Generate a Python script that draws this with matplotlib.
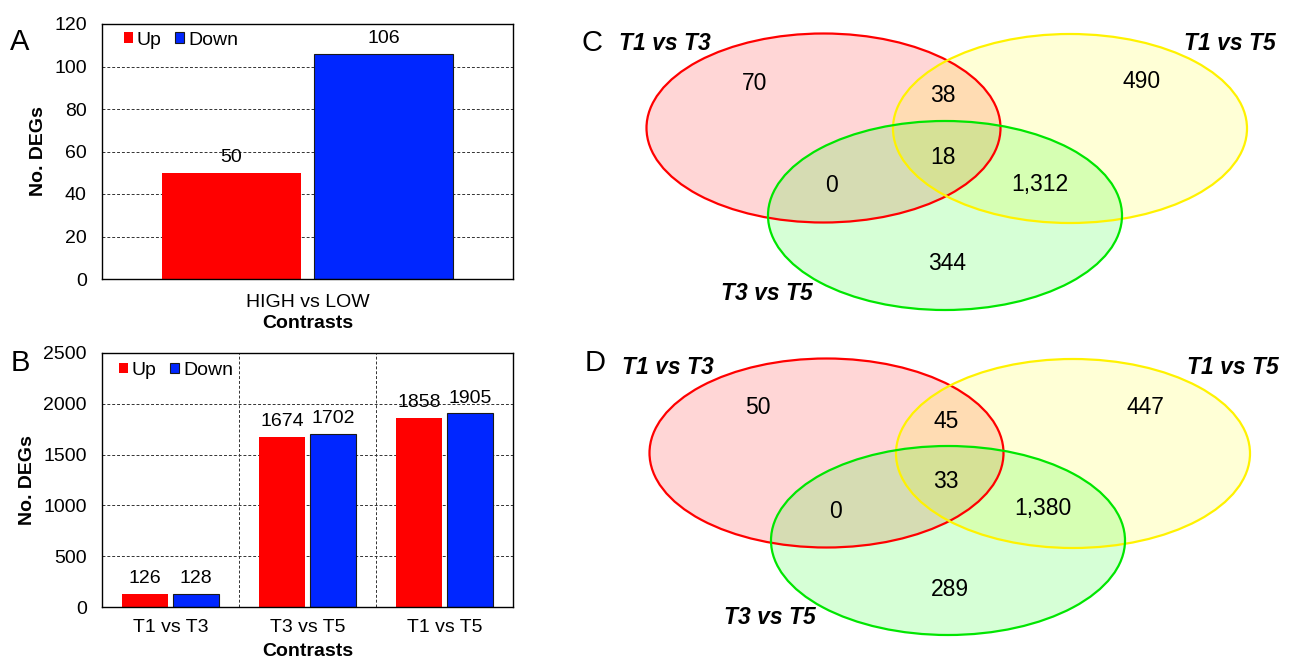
import matplotlib
matplotlib.use('Agg')
import matplotlib.pyplot as plt
from matplotlib.patches import Ellipse
import numpy as np

plt.rcParams['font.family'] = ['Liberation Sans', 'DejaVu Sans']

# Panel A: single contrast
contrasts_a = ['HIGH vs LOW']
up_a = [50]
down_a = [106]

# Panel B: three contrasts
contrasts_b = ['T1 vs T3', 'T3 vs T5', 'T1 vs T5']
up_b = [126, 1674, 1858]
down_b = [128, 1702, 1905]

# Venn panels C and D
venn_sets = ['T1 vs T3', 'T1 vs T5', 'T3 vs T5']
# regions: 13 only, 13&15, 15 only, all, 13&35, 15&35, 35 only
venn_c = [70, 38, 490, 18, 0, 1312, 344]
venn_d = [50, 45, 447, 33, 0, 1380, 289]

W, H = 1291, 660
RED = '#FF0000'
BLUE = '#0026FF'


def px_axes(fig, left, top, right, bottom):
    return fig.add_axes([left / W, 1 - bottom / H, (right - left) / W, (bottom - top) / H])


def bar_panel(ax, cats, up, down, ymax, ystep, leg_x, leg_y, xpad, xlpad, vlines=False):
    x = np.arange(len(cats))
    bw, off = 0.34, 0.185
    b1 = ax.bar(x - off, up, bw, color=RED, edgecolor='none', label='Up', zorder=2)
    b2 = ax.bar(x + off, down, bw, color=BLUE, edgecolor='#1a1a1a', linewidth=0.8, label='Down', zorder=2)
    for bars, vals in [(b1, up), (b2, down)]:
        for rect, v in zip(bars, vals):
            ax.annotate(str(v), (rect.get_x() + rect.get_width() / 2, v), xytext=(0, 5),
                        textcoords='offset points', ha='center', va='bottom', fontsize=14)
    ax.set_xlim(-0.5, len(cats) - 0.5)
    ax.set_ylim(0, ymax)
    ax.set_yticks(np.arange(0, ymax + 1, ystep))
    ax.set_xticks(x)
    ax.set_xticklabels(cats)
    ax.set_axisbelow(True)
    ax.yaxis.grid(True, linestyle=(0, (3, 2)), color='#333333', linewidth=0.7)
    if vlines:
        for b in x[1:] - 0.5:
            ax.axvline(b, linestyle=(0, (3, 2)), color='#333333', linewidth=0.7, zorder=1)
    ax.tick_params(axis='y', length=0, pad=11, labelsize=14)
    ax.tick_params(axis='x', length=0, pad=xpad, labelsize=14)
    for s in ax.spines.values():
        s.set_linewidth(1.0)
        s.set_color('black')
    ax.set_ylabel('No. DEGs', fontsize=14, fontweight='bold', labelpad=5)
    ax.set_xlabel('Contrasts', fontsize=14, fontweight='bold', labelpad=xlpad)
    ax.legend(loc='upper left', bbox_to_anchor=(leg_x, leg_y), ncol=2, frameon=False, fontsize=14,
              handlelength=0.46, handleheight=0.46, handletextpad=0.2, columnspacing=0.7,
              borderpad=0, borderaxespad=0)


def venn_panel(fig, top, counts, dx, dy):
    ax = fig.add_axes([560 / W, 1 - (top + 330) / H, 731 / W, 330 / H])
    ax.set_xlim(560, 1291)
    ax.set_ylim(top + 330, top)
    ax.axis('off')
    # layout (pixel positions from panel C)
    centers = [(823.5, 128), (1070, 128.5), (945, 215.5)]
    edge = ['#FF0000', '#FFF200', '#00E600']
    face = ['#FF0000', '#FFFF00', '#00FF00']
    for (cx, cy), fc in zip(centers, face):
        ax.add_patch(Ellipse((cx + dx, cy + dy), 354, 189, facecolor=fc, alpha=0.16, edgecolor='none'))
    for (cx, cy), ec in zip(centers, edge):
        ax.add_patch(Ellipse((cx + dx, cy + dy), 354, 189, facecolor='none', edgecolor=ec, linewidth=1.6))
    spots = [(755, 83), (943, 96), (1142, 82), (943, 157), (832, 186), (1040, 184), (947, 264)]
    for (lx, ly), v in zip(spots, counts):
        ax.text(lx + dx, ly + dy, f'{v:,}', ha='center', va='center', fontsize=16.5)
    name_spots = [(665, 43), (1230, 43), (767, 293)]
    for (lx, ly), name in zip(name_spots, venn_sets):
        ax.text(lx + dx, ly + dy, name, ha='center', va='center', fontsize=16.5,
                fontweight='bold', fontstyle='italic')


fig = plt.figure(figsize=(W / 100, H / 100), dpi=100)

ax_a = px_axes(fig, 102, 24, 513, 279)
bar_panel(ax_a, contrasts_a, up_a, down_a, 120, 20, leg_x=22 / 411, leg_y=0.97, xpad=11, xlpad=3)

ax_b = px_axes(fig, 102, 353, 513, 607)
bar_panel(ax_b, contrasts_b, up_b, down_b, 2500, 500, leg_x=17 / 411, leg_y=0.965, xpad=9, xlpad=5,
          vlines=True)

venn_panel(fig, 0, venn_c, 0, 0)
venn_panel(fig, 330, venn_d, 3, 325)

for letter, (lx, ly) in zip('ABCD', [(20, 42), (20, 363), (592, 43), (595, 363)]):
    fig.text(lx / W, 1 - ly / H, letter, fontsize=21, ha='center', va='center')

fig.savefig('out.png', dpi=100)
